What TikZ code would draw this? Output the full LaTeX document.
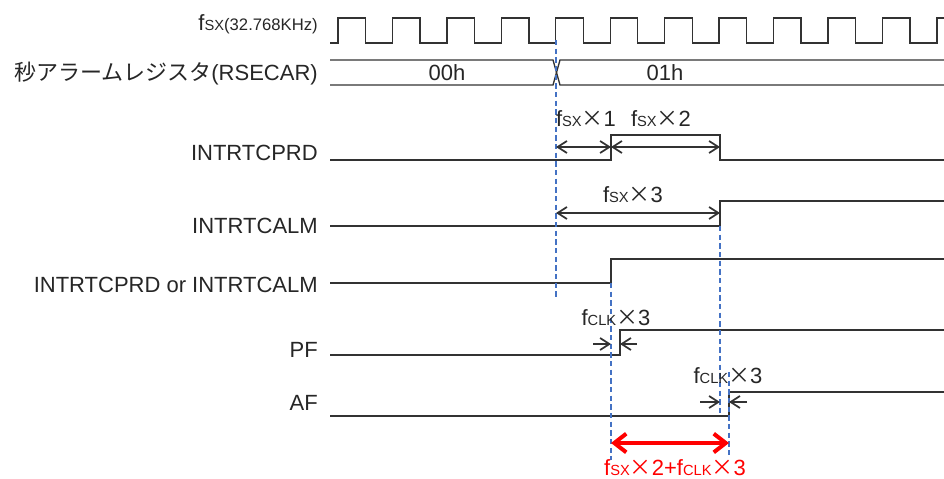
\documentclass[tikz,border=0pt]{standalone}
\usepackage{fontspec}
\setmainfont{Liberation Sans}
\newfontfamily\cjk{Noto Sans CJK JP}
\usepackage{tikz}
\usetikzlibrary{arrows.meta}
\definecolor{ink}{RGB}{38, 38, 38}
\definecolor{wave}{RGB}{50, 50, 50}
\definecolor{guide}{RGB}{68, 114, 196}
\definecolor{accent}{RGB}{255, 0, 0}
\newcommand{\subsc}[1]{{\fontsize{11}{12}\selectfont #1}}
\newcommand{\fsx}{f\subsc{SX}}
\newcommand{\fclk}{f\subsc{CLK}}
\newcommand{\mul}{{\cjk ×}}

\tikzset{
  every node/.style={font=\fontsize{16.5}{19}\selectfont, text=ink, inner sep=0pt},
  sig/.style={draw=wave, line width=1pt},
  guide/.style={draw=guide, line width=0.8pt, dash pattern=on 4pt off 2.5pt},
  dim/.style={draw=wave, line width=1.3pt, arrows={Straight Barb[length=7pt,width=9pt]-Straight Barb[length=7pt,width=9pt]}},
  pin/.style={draw=wave, line width=1.3pt, arrows={-Straight Barb[length=7pt,width=9pt]}},
  siglabel/.style={anchor=base east}
}

\begin{document}
\begin{tikzpicture}[x=0.75pt, y=-0.75pt]
    \useasboundingbox (0,0) rectangle (944,478);

    % Signal names
    \node[siglabel] (lfsx) at (318,31) {\fsx{\fontsize{12.5}{13}\selectfont (32.768KHz)}};
    \node[siglabel] (lsec) at (318,80) {{\cjk 秒アラームレジスタ}(RSECAR)};
    \node[siglabel] (lprd) at (318,160) {INTRTCPRD};
    \node[siglabel] (lalm) at (318,233) {INTRTCALM};
    \node[siglabel] (lor) at (318,292) {INTRTCPRD or INTRTCALM};
    \node[siglabel] (lpf) at (318,357) {PF};
    \node[siglabel] (laf) at (318,410) {AF};

    % Clock fsx
    \draw[sig] (330,43) \foreach \i in {0,...,10} {
        -- ({338+54.45*\i},43) -- ({338+54.45*\i},18)
        -- ({365.5+54.45*\i},18) -- ({365.5+54.45*\i},43)}
        -- (937,43) -- (937,18) -- (944,18);

    % RSECAR bus
    \draw[sig] (330,60) -- (553,60) -- (560,85) -- (944,85);
    \draw[sig] (330,85) -- (553,85) -- (560,60) -- (944,60);
    \node[anchor=base] (v00) at (447,80) {00h};
    \node[anchor=base] (v01) at (665,80) {01h};

    % Edge times
    \coordinate (T0) at (556,0);
    \coordinate (T1) at (611,0);
    \coordinate (T2) at (620,0);
    \coordinate (T3) at (720,0);
    \coordinate (T4) at (729,0);

    % Waveforms
    \draw[sig] (330,160) -- (611,160) -- (611,135) -- (720,135) -- (720,160) -- (944,160);
    \draw[sig] (330,226) -- (720,226) -- (720,201) -- (944,201);
    \draw[sig] (330,283) -- (611,283) -- (611,259) -- (944,259);
    \draw[sig] (330,355) -- (620,355) -- (620,330) -- (944,330);
    \draw[sig] (330,416) -- (729,416) -- (729,392) -- (944,392);

    % Guide lines
    \draw[guide] (T0 |- 0,40) -- (T0 |- 0,298);
    \draw[guide] (T1 |- 0,283) -- (T1 |- 0,460);
    \draw[guide] (T3 |- 0,226) -- (T3 |- 0,416);
    \draw[guide] (T4 |- 0,372) -- (T4 |- 0,458);

    % fsx counts
    \draw[dim] (T0 |- 0,147) -- (T1 |- 0,147);
    \draw[dim] (T1 |- 0,147) -- (T3 |- 0,147);
    \node[anchor=base] (n1) at (586,126) {\fsx\mul 1};
    \node[anchor=base] (n2) at (661,126) {\fsx\mul 2};
    \draw[dim] (T0 |- 0,213) -- (T3 |- 0,213);
    \node[anchor=base] (n3) at (633,202) {\fsx\mul 3};

    % fclk delays
    \coordinate (pfl) at (593,344);
    \coordinate (pfr) at (637,344);
    \draw[pin] (pfl) -- (T1 |- pfl);
    \draw[pin] (pfr) -- (T2 |- pfr);
    \node[anchor=base] (c1) at (616,325) {\fclk\mul 3};
    \coordinate (afl) at (700,402);
    \coordinate (afr) at (747,402);
    \draw[pin] (afl) -- (T3 |- afl);
    \draw[pin] (afr) -- (T4 |- afr);
    \node[anchor=base] (c2) at (728,383) {\fclk\mul 3};

    % Total delay
    \draw[draw=accent, line width=3pt, arrows={Straight Barb[length=9pt,width=14pt]-Straight Barb[length=9pt,width=14pt]}]
        (T1 |- 0,443) -- (T4 |- 0,443);
    \node[anchor=base, text=accent] (tot) at (675,475) {\fsx\mul 2+\fclk\mul 3};
\end{tikzpicture}
\end{document}
